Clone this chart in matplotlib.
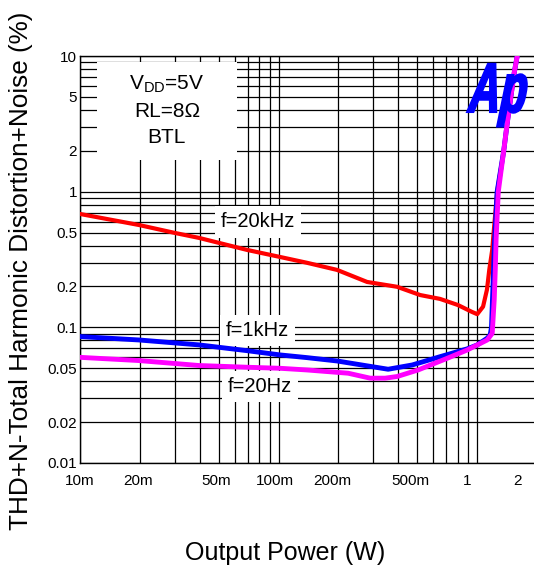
import matplotlib
matplotlib.use("Agg")
import matplotlib.pyplot as plt
import matplotlib.transforms as mtransforms
from matplotlib.patches import Rectangle, PathPatch
from matplotlib.textpath import TextPath
from matplotlib.font_manager import FontProperties
from matplotlib.ticker import LogLocator, NullFormatter
import numpy as np

plt.rcParams['font.family'] = ['Liberation Sans', 'DejaVu Sans']
plt.rcParams['mathtext.fontset'] = 'custom'
plt.rcParams['mathtext.rm'] = 'Liberation Sans'
plt.rcParams['mathtext.it'] = 'Liberation Sans:italic'

# --- data (W, %) ---
red_x = [0.01, 0.0198, 0.0301, 0.0398, 0.0694, 0.1018, 0.139, 0.197, 0.279, 0.395,
         0.516, 0.65, 0.80, 0.94, 1.0, 1.07, 1.12, 1.15, 1.19, 1.21, 1.26, 1.36, 1.416, 1.535, 1.59]
red_y = [0.685, 0.568, 0.496, 0.456, 0.372, 0.33, 0.299, 0.265, 0.216, 0.199,
         0.173, 0.162, 0.146, 0.130, 0.125, 0.142, 0.19, 0.265, 0.372, 0.5, 1.0, 2.0, 3.2, 7.5, 10.0]

blue_x = [0.01, 0.0198, 0.0398, 0.0694, 0.1018, 0.139, 0.197, 0.279, 0.356, 0.471,
          0.651, 0.891, 1.0, 1.123, 1.162, 1.18, 1.2, 1.22, 1.26, 1.36, 1.416, 1.535, 1.59]
blue_y = [0.0855, 0.0807, 0.0742, 0.0673, 0.0626, 0.0598, 0.0565, 0.052, 0.0491, 0.0528,
          0.0608, 0.0694, 0.0742, 0.0832, 0.0879, 0.1, 0.2, 0.4, 1.0, 2.0, 3.2, 7.5, 10.0]

mag_x = [0.01, 0.0198, 0.0398, 0.0694, 0.1018, 0.139, 0.224, 0.289, 0.344, 0.395,
         0.504, 0.706, 0.891, 1.123, 1.19, 1.218, 1.233, 1.245, 1.277, 1.36, 1.416, 1.535, 1.59]
mag_y = [0.0601, 0.0569, 0.0523, 0.0508, 0.0499, 0.0485, 0.0459, 0.0422, 0.0422, 0.0434,
         0.0485, 0.0591, 0.0681, 0.0807, 0.0903, 0.16, 0.265, 0.45, 1.0, 2.0, 3.2, 7.5, 10.0]

x_ticks = [0.01, 0.02, 0.05, 0.1, 0.2, 0.5, 1, 2]
x_ticklabels = ["10m", "20m", "50m", "100m", "200m", "500m", "1", "2"]
x_label_shift = [0, -2, -3, -4, -6, -7, -10, -19]   # px, labels sit a bit left of the grid
y_ticks = [0.01, 0.02, 0.05, 0.1, 0.2, 0.5, 1, 2, 5, 10]
y_ticklabels = ["0.01", "0.02", "0.05", "0.1", "0.2", "0.5", "1", "2", "5", "10"]

W, H = 534, 571
fig = plt.figure(figsize=(W / 100, H / 100), dpi=100)
ax = fig.add_axes([80 / W, 108 / H, 457 / W, 407 / H])
ax.set_xscale('log')
ax.set_yscale('log')
ax.set_xlim(0.01, 2)
ax.set_ylim(0.01, 10)

ax.xaxis.set_minor_locator(LogLocator(base=10, subs=np.arange(2, 10)))
ax.yaxis.set_minor_locator(LogLocator(base=10, subs=np.arange(2, 10)))
ax.xaxis.set_minor_formatter(NullFormatter())
ax.yaxis.set_minor_formatter(NullFormatter())
ax.set_xticks(x_ticks)
ax.set_xticklabels(x_ticklabels, fontsize=11)
ax.set_yticks(y_ticks)
ax.set_yticklabels(y_ticklabels, fontsize=11)
ax.tick_params(which='both', length=0)
ax.tick_params(axis='x', pad=8)
ax.tick_params(axis='y', pad=2)
for lab, dx in zip(ax.get_xticklabels(), x_label_shift):
    lab.set_transform(lab.get_transform() + mtransforms.ScaledTranslation(dx / 100, 0, fig.dpi_scale_trans))

ax.grid(which='both', color='black', lw=0.9)
ax.set_axisbelow(True)
ax.spines['right'].set_visible(False)
for s in ['left', 'bottom', 'top']:
    ax.spines[s].set_linewidth(1.0)

# --- curves ---
ax.plot(red_x, red_y, color='#ff0000', lw=3.0, solid_capstyle='round', zorder=4)
ax.plot(blue_x, blue_y, color='#0000ff', lw=3.5, solid_capstyle='round', zorder=5)
ax.plot(mag_x, mag_y, color='#ff00ff', lw=3.5, solid_capstyle='round', zorder=6)

# --- condition box ---
ax.add_patch(Rectangle((0.037, 0.744), 0.306, 0.241, transform=ax.transAxes,
                       facecolor='white', edgecolor='none', zorder=3))
ax.text(0.19, 0.867, r'V$_{\mathrm{DD}}$=5V' + '\nRL=8Ω\nBTL', transform=ax.transAxes,
        ha='center', va='center', fontsize=15, linespacing=1.45, zorder=7)

# --- curve labels ---
lbl_box = dict(boxstyle='square,pad=0.3', facecolor='white', edgecolor='none')
ax.text(0.0789, 0.598, 'f=20kHz', ha='center', va='center', fontsize=14.5, bbox=lbl_box, zorder=3)
ax.text(0.0785, 0.0948, 'f=1kHz', ha='center', va='center', fontsize=14.5, bbox=lbl_box, zorder=3)
ax.text(0.0807, 0.0364, 'f=20Hz', ha='center', va='center', fontsize=14.5, bbox=lbl_box, zorder=3)

# --- axis titles ---
fig.text(285 / W, 1 - 553 / H, 'Output Power (W)', ha='center', va='center', fontsize=18)
fig.text(21 / W, 1 - 271 / H, 'THD+N-Total Harmonic Distortion+Noise (%)',
         ha='center', va='center', rotation=90, fontsize=18.8)

# --- "Ap" logo, condensed bold italic ---
tp = TextPath((0, 0), "Ap", size=1,
              prop=FontProperties(family='Liberation Sans', weight='bold', style='italic'))
logo_tr = (mtransforms.Affine2D().skew_deg(8, 0).scale(0.62 * 70, 70).translate(468, H - 112)
           + mtransforms.Affine2D().scale(1 / W, 1 / H) + fig.transFigure)
fig.patches.append(PathPatch(tp, transform=logo_tr, facecolor='#0000ff', edgecolor='#0000ff',
                             lw=1.5, zorder=10))

fig.savefig('out.png', dpi=100)
